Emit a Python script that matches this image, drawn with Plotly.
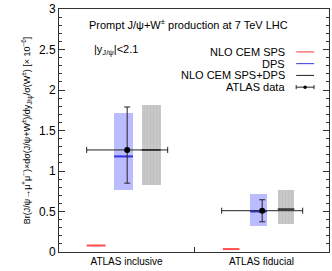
import plotly.graph_objects as go

categories = ["ATLAS inclusive", "ATLAS fiducial"]
cat_pos = [0.5, 1.5]
sps = [0.08, 0.036]
dps_central = [1.18, 0.50]
dps_low = [0.76, 0.32]
dps_high = [1.71, 0.71]
tot_central = [1.26, 0.53]
tot_low = [0.83, 0.35]
tot_high = [1.82, 0.76]
data_val = [1.26, 0.51]
data_err_up = [0.53, 0.135]
data_err_down = [0.41, 0.137]
data_xerr = [0.3, 0.3]

# layout styles
widths = [0.14, 0.123]
off_sps, off_dps, off_tot, off_data = -0.225, -0.022, 0.182, 0.005
FONT = "Liberation Sans, Arial, sans-serif"

fig = go.Figure()

# DPS band
fig.add_trace(go.Bar(
    x=[p + off_dps for p in cat_pos],
    y=[h - l for h, l in zip(dps_high, dps_low)], base=dps_low, width=widths,
    marker=dict(color="rgba(120,120,255,0.5)", line=dict(width=0)),
    showlegend=False, hoverinfo="skip"))
# SPS+DPS band
fig.add_trace(go.Bar(
    x=[p + off_tot for p in cat_pos],
    y=[h - l for h, l in zip(tot_high, tot_low)], base=tot_low, width=widths,
    marker=dict(color="#c4c4c4", line=dict(width=0),
                pattern=dict(shape="|", fgcolor="#b8b8b8", bgcolor="#c8c8c8", size=3, solidity=0.3)),
    showlegend=False, hoverinfo="skip"))

# central lines and SPS lines
for i in range(2):
    w = widths[i]
    xs = cat_pos[i] + off_sps
    fig.add_trace(go.Scatter(x=[xs - w / 2, xs + w / 2], y=[sps[i], sps[i]], mode="lines",
                             line=dict(color="#ff4d4d", width=2), showlegend=False, hoverinfo="skip"))
    xd = cat_pos[i] + off_dps
    fig.add_trace(go.Scatter(x=[xd - w / 2, xd + w / 2], y=[dps_central[i]] * 2, mode="lines",
                             line=dict(color="#3333dd", width=2), showlegend=False, hoverinfo="skip"))
    xt = cat_pos[i] + off_tot
    fig.add_trace(go.Scatter(x=[xt - w / 2, xt + w / 2], y=[tot_central[i]] * 2, mode="lines",
                             line=dict(color="#222222", width=1.5), showlegend=False, hoverinfo="skip"))

# ATLAS data
fig.add_trace(go.Scatter(
    x=[p + off_data for p in cat_pos], y=data_val, mode="markers",
    marker=dict(color="black", size=6),
    error_y=dict(type="data", symmetric=False, array=data_err_up, arrayminus=data_err_down,
                 color="#222222", thickness=1, width=3),
    error_x=dict(type="data", array=data_xerr, color="#222222", thickness=1, width=3),
    showlegend=False, hoverinfo="skip"))

# text annotations
fig.add_annotation(x=0.207, y=2.82, xref="x", yref="y", xanchor="left", yanchor="middle",
                   text="Prompt J/ψ+W<sup>±</sup> production at 7 TeV LHC", showarrow=False,
                   font=dict(family=FONT, size=11, color="black"))
fig.add_annotation(x=0.243, y=2.49, xref="x", yref="y", xanchor="left", yanchor="middle",
                   text="|y<sub>J/ψ</sub>|<2.1", showarrow=False,
                   font=dict(family=FONT, size=11, color="black"))

leg_names = ["NLO CEM SPS", "DPS", "NLO CEM SPS+DPS", "ATLAS data"]
leg_y = [2.47, 2.325, 2.18, 2.035]
leg_colors = ["#ff3333", "#3333dd", "#222222", "#222222"]
for name, yy, col in zip(leg_names, leg_y, leg_colors):
    fig.add_annotation(x=1.69, y=yy, xref="x", yref="y", xanchor="right", yanchor="middle",
                       text=name, showarrow=False, font=dict(family=FONT, size=11, color="black"))
    fig.add_shape(type="line", x0=1.757, x1=1.889, y0=yy, y1=yy, xref="x", yref="y",
                  line=dict(color=col, width=1))
yy = leg_y[3]
for xc in (1.757, 1.889):
    fig.add_shape(type="line", x0=xc, x1=xc, y0=yy - 0.025, y1=yy + 0.025, xref="x", yref="y",
                  line=dict(color="#222222", width=1))
fig.add_shape(type="circle", x0=1.823 - 0.013, x1=1.823 + 0.013, y0=yy - 0.022, y1=yy + 0.022,
              xref="x", yref="y", fillcolor="black", line=dict(width=0))

fig.update_layout(
    width=332, height=271, margin=dict(l=59, r=2, t=4, b=19),
    paper_bgcolor="white", plot_bgcolor="white", barmode="overlay", bargap=0,
    font=dict(family=FONT, color="black"),
    xaxis=dict(range=[0, 2], tickmode="array", tickvals=cat_pos, ticktext=categories,
               ticks="", showgrid=False, zeroline=False, showline=True, linecolor="#333333",
               linewidth=1, mirror=True, tickfont=dict(size=10, family=FONT),
               minor=dict(tickmode="array", tickvals=[1.0], ticks="inside", ticklen=5,
                          tickcolor="#333333", showgrid=False)),
    yaxis=dict(range=[0, 3], tickmode="linear", tick0=0, dtick=0.5, ticks="inside", ticklen=6,
               tickcolor="#333333", showgrid=False, zeroline=False, showline=True,
               linecolor="#333333", linewidth=1, mirror="allticks",
               ticklabeloverflow="allow",
               tickfont=dict(size=12, family=FONT),
               minor=dict(dtick=0.1, ticks="inside", ticklen=3, tickcolor="#333333", showgrid=False),
               title=dict(text="Br(J/ψ→μ<sup>+</sup>μ<sup>−</sup>)×dσ(J/ψ+W<sup>±</sup>)/dy<sub>J/ψ</sub>/σ(W<sup>±</sup>) [× 10<sup>−6</sup>]",
                          font=dict(size=9, family=FONT), standoff=6)),
)

fig.write_html("out.html", config={"displayModeBar": False},
               post_script="document.body.style.margin='0';")
